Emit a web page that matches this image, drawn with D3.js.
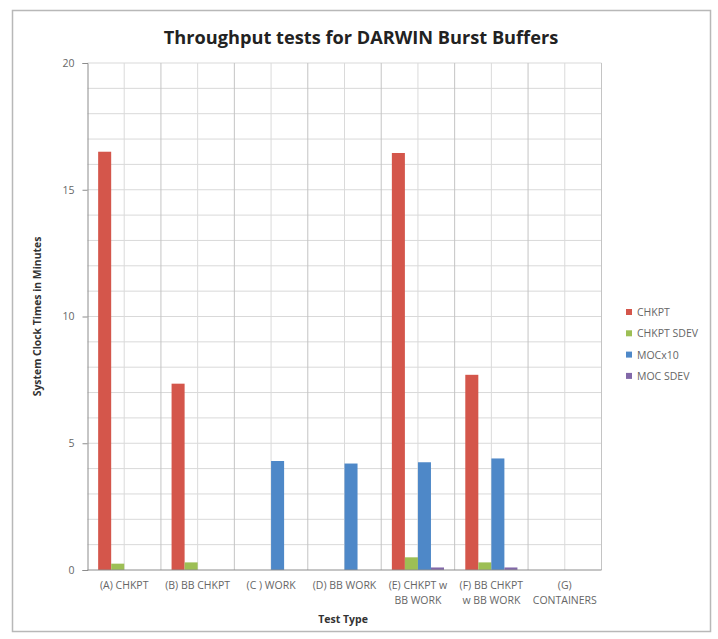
<!DOCTYPE html>
<html>
<head>
<meta charset="utf-8">
<script src="https://cdn.jsdelivr.net/npm/d3@7"></script>
<style>
  body { margin: 0; background: #fff; }
  text { font-family: "Open Sans", "Liberation Sans", sans-serif; }
</style>
</head>
<body>
<svg id="chart"></svg>
<script>
// 数据
const categories = [
  ["(A) CHKPT"], ["(B) BB CHKPT"], ["(C ) WORK"], ["(D) BB WORK"],
  ["(E) CHKPT w", "BB WORK"], ["(F) BB CHKPT", "w BB WORK"], ["(G)", "CONTAINERS"]
];
const seriesNames = ["CHKPT", "CHKPT SDEV", "MOCx10", "MOC SDEV"];
const chkpt     = [16.5, 7.35, 0, 0, 16.45, 7.7, 0];
const chkptSdev = [0.25, 0.3, 0, 0, 0.5, 0.3, 0];
const mocx10    = [0, 0, 4.3, 4.2, 4.25, 4.4, 0];
const mocSdev   = [0, 0, 0, 0, 0.1, 0.1, 0];
const yTicks = [0, 5, 10, 15, 20];
const colors = ["#D4564B", "#9DBF55", "#4E88C8", "#8268A8"];

const width = 718, height = 639;
const margin = {left: 87.5, right: 116.5, top: 63, bottom: 69};

const svg = d3.select("#chart").attr("width", width).attr("height", height);

// 外框
svg.append("rect")
  .attr("x", 12.5).attr("y", 10.5)
  .attr("width", 698).attr("height", 621)
  .attr("fill", "#fff").attr("stroke", "#b8b8b8").attr("stroke-width", 1.5);

const seriesData = [chkpt, chkptSdev, mocx10, mocSdev];
const keys = categories.map((c, i) => i);

const x0 = d3.scaleBand().domain(keys)
  .range([margin.left, width - margin.right]).padding(0);
const x1 = d3.scaleBand().domain(seriesNames)
  .range([x0.bandwidth() * 0.145, x0.bandwidth() * 0.855]).padding(0);
const y = d3.scaleLinear().domain([0, 20]).range([height - margin.bottom, margin.top]);

// 网格
const g = svg.append("g");
g.selectAll(".hgrid")
  .data(d3.range(1, 21))
  .enter().append("line")
  .attr("x1", margin.left).attr("x2", width - margin.right)
  .attr("y1", d => y(d)).attr("y2", d => y(d))
  .attr("stroke", "#d9d9d9").attr("stroke-width", 1);

g.selectAll(".vgrid")
  .data(d3.range(1, 15))
  .enter().append("line")
  .attr("x1", d => margin.left + d * x0.bandwidth() / 2)
  .attr("x2", d => margin.left + d * x0.bandwidth() / 2)
  .attr("y1", y(0)).attr("y2", y(20))
  .attr("stroke", d => d % 2 === 0 ? "#c4c4c4" : "#dadada").attr("stroke-width", 1);

// 柱子
seriesData.forEach((vals, si) => {
  g.selectAll(".bar-" + si)
    .data(vals)
    .enter().append("rect")
    .attr("x", (d, i) => x0(i) + x1(seriesNames[si]))
    .attr("y", d => y(d))
    .attr("width", x1.bandwidth())
    .attr("height", d => y(0) - y(d))
    .attr("fill", colors[si]);
});

// 坐标轴
const yAxis = svg.append("g")
  .attr("transform", `translate(${margin.left},0)`)
  .call(d3.axisLeft(y).tickValues(yTicks).tickSize(5).tickPadding(8));
yAxis.select(".domain").attr("stroke", "#8c8c8c");
yAxis.selectAll(".tick line").attr("stroke", "#8c8c8c");
yAxis.selectAll("text").attr("fill", "#666").style("font-size", "10.5px");

svg.append("line")
  .attr("x1", margin.left).attr("x2", width - margin.right)
  .attr("y1", y(0)).attr("y2", y(0))
  .attr("stroke", "#8c8c8c");

// 分类标签
const catLabels = svg.selectAll(".cat-label")
  .data(categories)
  .enter().append("text")
  .attr("class", "cat-label")
  .attr("text-anchor", "middle")
  .attr("y", y(0) + 19)
  .style("font-size", "10.5px")
  .attr("fill", "#666");
catLabels.each(function(d, i) {
  const t = d3.select(this);
  d.forEach((line, j) => {
    t.append("tspan")
      .attr("x", x0(i) + x0.bandwidth() / 2)
      .attr("dy", j === 0 ? 0 : 15)
      .text(line);
  });
});

// 标题
svg.append("text")
  .attr("x", 361).attr("y", 44)
  .attr("text-anchor", "middle")
  .style("font-size", "18.2px").style("font-weight", "bold")
  .attr("fill", "#222")
  .text("Throughput tests for DARWIN Burst Buffers");

svg.append("text")
  .attr("x", 343).attr("y", 623)
  .attr("text-anchor", "middle")
  .style("font-size", "10.5px").style("font-weight", "bold")
  .attr("fill", "#333")
  .text("Test Type");

svg.append("text")
  .attr("transform", `translate(41,${y(10)}) rotate(-90)`)
  .attr("text-anchor", "middle")
  .style("font-size", "10.4px").style("font-weight", "bold")
  .attr("fill", "#333")
  .text("System Clock Times in Minutes");

// 图例
const legend = svg.append("g").attr("transform", "translate(626,313)");
seriesNames.forEach((name, i) => {
  const item = legend.append("g").attr("transform", `translate(0,${i * 21.3})`);
  item.append("rect").attr("x", 0).attr("y", -4).attr("width", 6).attr("height", 6)
    .attr("fill", colors[i]);
  item.append("text").attr("x", 11).attr("y", 3)
    .style("font-size", "10.5px").attr("fill", "#666")
    .text(name);
});
</script>
</body>
</html>
